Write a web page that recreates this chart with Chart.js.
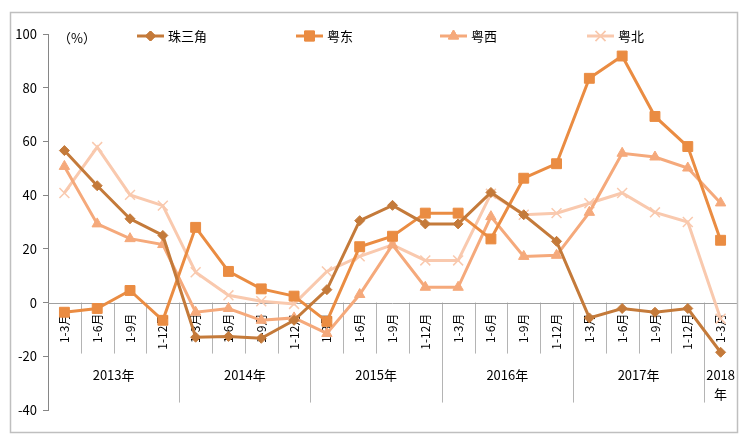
<!DOCTYPE html>
<html>
<head>
<meta charset="utf-8">
<script src="https://cdn.jsdelivr.net/npm/chart.js@4/dist/chart.umd.min.js"></script>
<style>
html,body{margin:0;padding:0;background:#fff;}
#wrap{width:748px;height:441px;position:relative;}
</style>
</head>
<body>
<div id="wrap"><canvas id="c" width="748" height="441"></canvas></div>
<script>
// ---- data ----
const categories = ['1-3月','1-6月','1-9月','1-12月','1-3月','1-6月','1-9月','1-12月','1-3月','1-6月','1-9月','1-12月','1-3月','1-6月','1-9月','1-12月','1-3月','1-6月','1-9月','1-12月','1-3月'];
const yearLabels = ['2013年','2014年','2015年','2016年','2017年','2018年'];
const yearSpans = [4,4,4,4,4,1];
const seriesNames = ['珠三角','粤东','粤西','粤北'];
const prd   = [56.6, 43.5, 31.2, 25, -12.9, -12.6, -13.3, -6.6, 4.8, 30.5, 36.2, 29.3, 29.3, 41, 32.7, 22.8, -5.7, -2.2, -3.6, -2.2, -18.5];
const east  = [-3.6, -2.2, 4.5, -6.6, 28, 11.6, 5.1, 2.4, -7, 20.8, 24.7, 33.3, 33.3, 23.7, 46.3, 51.7, 83.5, 91.8, 69.3, 58.1, 23.2];
const west  = [50.7, 29.3, 23.8, 21.6, -3.6, -2.2, -6.6, -5.7, -11.5, 3, 21.5, 5.7, 5.7, 32, 17.2, 17.6, 33.6, 55.6, 54.2, 50.1, 37.1];
const north = [40.8, 57.9, 40.1, 36.1, 11.3, 2.7, 0.5, -0.5, 11.6, 17.2, 21.5, 15.7, 15.7, 40.5, 32.7, 33.3, 37, 40.8, 33.6, 30, -6];
const yMin = -40, yMax = 100, yStep = 20;
const unitLabel = '（%）';

const colors = ['#C47A3A', '#EA8C42', '#F5A97B', '#F9C9AE'];
const styles = [
  {pointStyle:'rectRot', radius:5, bw:1},
  {pointStyle:'rect', radius:7, bw:1},
  {pointStyle:'triangle', radius:6, bw:1},
  {pointStyle:'crossRot', radius:7, bw:1.5}
];
const values = [prd, east, west, north];
const FONT = '"Noto Sans CJK SC", "Noto Sans", sans-serif';

const datasets = values.map((v, i) => ({
  label: seriesNames[i],
  data: v,
  borderColor: colors[i],
  backgroundColor: colors[i],
  pointBackgroundColor: colors[i],
  pointBorderColor: colors[i],
  borderWidth: 3,
  pointStyle: styles[i].pointStyle,
  pointRadius: styles[i].radius,
  pointBorderWidth: styles[i].bw,
  pointHoverRadius: styles[i].radius,
  tension: 0,
  clip: false
}));

function drawMarker(ctx, style, x, y, r, color, bw) {
  ctx.save();
  ctx.fillStyle = color; ctx.strokeStyle = color; ctx.lineWidth = bw;
  Chart.helpers.drawPoint(ctx, {pointStyle: style, radius: r, borderWidth: bw}, x, y);
  ctx.fill(); if (bw > 0) ctx.stroke();
  ctx.restore();
}

const decor = {
  id: 'decor',
  beforeDatasetsDraw(chart) {
    const ctx = chart.ctx;
    const xs = chart.scales.x, ys = chart.scales.y;
    const y0 = ys.getPixelForValue(0);
    const left = chart.chartArea.left, right = chart.chartArea.right;
    const band = (xs.getPixelForValue(1) - xs.getPixelForValue(0));
    ctx.save();
    // separators
    ctx.strokeStyle = '#B4B4B4';
    ctx.lineWidth = 1;
    let boundaries = new Set();
    let acc = 0;
    yearSpans.forEach(s => { acc += s; boundaries.add(acc); });
    for (let i = 1; i <= categories.length; i++) {
      const x = Math.round(xs.getPixelForValue(i - 0.5)) + 0.5;
      const isYear = boundaries.has(i);
      ctx.beginPath();
      ctx.moveTo(x, y0);
      ctx.lineTo(x, isYear ? y0 + 100 : y0 + 51);
      ctx.stroke();
    }
    // zero axis line
    ctx.strokeStyle = '#A0A0A0';
    ctx.beginPath();
    ctx.moveTo(left, Math.round(y0) + 0.5);
    ctx.lineTo(right, Math.round(y0) + 0.5);
    ctx.stroke();
    // category labels
    ctx.fillStyle = '#000';
    ctx.font = '12px ' + FONT;
    ctx.textAlign = 'right';
    ctx.textBaseline = 'middle';
    categories.forEach((c, i) => {
      const x = xs.getPixelForValue(i);
      ctx.save();
      ctx.translate(x, y0 + 11);
      ctx.rotate(-Math.PI / 2);
      ctx.fillText(c, 0, 0);
      ctx.restore();
    });
    // year labels
    ctx.font = '13px ' + FONT;
    ctx.textAlign = 'center';
    let start = 0;
    yearLabels.forEach((yl, k) => {
      const n = yearSpans[k];
      const cx = xs.getPixelForValue(start + (n - 1) / 2);
      const w = n * band;
      if (ctx.measureText(yl).width > w - 2) {
        ctx.fillText(yl.slice(0, 4), cx, y0 + 72);
        ctx.fillText(yl.slice(4), cx, y0 + 91);
      } else {
        ctx.fillText(yl, cx, y0 + 72);
      }
      start += n;
    });
    ctx.restore();
  },
  afterDraw(chart) {
    const ctx = chart.ctx;
    ctx.save();
    // frame
    ctx.strokeStyle = '#BFBFBF';
    ctx.lineWidth = 1.5;
    ctx.strokeRect(10.5, 12.5, 727, 420);
    // unit label
    ctx.fillStyle = '#000';
    ctx.font = '13px ' + FONT;
    ctx.textAlign = 'left';
    ctx.textBaseline = 'middle';
    ctx.fillText(unitLabel, 58, 38);
    // legend
    const legX = [137, 296, 440, 587];
    const ly = 36;
    seriesNames.forEach((nm, i) => {
      const x = legX[i];
      ctx.strokeStyle = colors[i];
      ctx.lineWidth = 3;
      ctx.beginPath();
      ctx.moveTo(x, ly); ctx.lineTo(x + 27, ly);
      ctx.stroke();
      drawMarker(ctx, styles[i].pointStyle, x + 13.5, ly, styles[i].radius, colors[i], styles[i].bw);
      ctx.fillStyle = '#000';
      ctx.font = '13px ' + FONT;
      ctx.fillText(nm, x + 31, ly);
    });
    ctx.restore();
  }
};

new Chart(document.getElementById('c'), {
  type: 'line',
  data: { labels: categories, datasets },
  options: {
    responsive: false,
    animation: false,
    devicePixelRatio: 1,
    layout: { padding: { left: 0, right: 11, top: 34, bottom: 31 } },
    plugins: { legend: { display: false }, tooltip: { enabled: false } },
    scales: {
      x: { display: false, offset: true, grid: { offset: true } },
      y: {
        min: yMin, max: yMax,
        afterFit(s) { s.width = 48; },
        ticks: { stepSize: yStep, color: '#000', padding: 6, font: { size: 13, family: FONT } },
        grid: { drawOnChartArea: false, drawTicks: true, tickLength: 5, color: '#868686' },
        border: { color: '#868686', width: 1 }
      }
    }
  },
  plugins: [decor]
});
</script>
</body>
</html>
